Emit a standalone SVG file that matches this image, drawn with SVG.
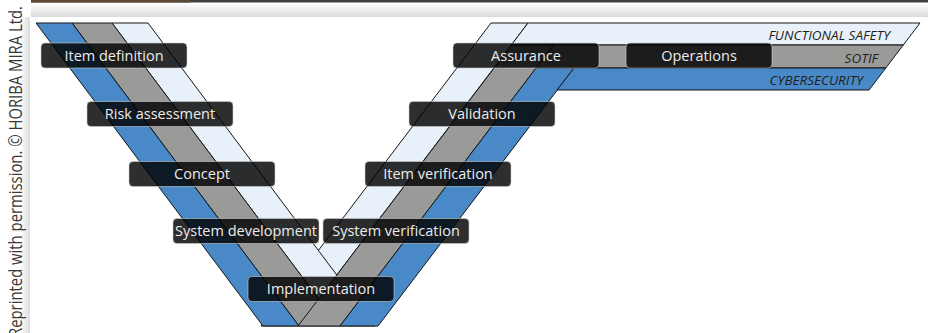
<svg xmlns="http://www.w3.org/2000/svg" width="928" height="333" viewBox="0 0 928 333">
  <defs>
    <linearGradient id="shadeTop" x1="0" y1="0" x2="0" y2="1">
      <stop offset="0" stop-color="#ffffff"/>
      <stop offset="1" stop-color="#dadada"/>
    </linearGradient>
    <linearGradient id="shadeLeft" x1="0" y1="0" x2="1" y2="0">
      <stop offset="0" stop-color="#ffffff"/>
      <stop offset="1" stop-color="#dcdcdc"/>
    </linearGradient>
  </defs>
  <style>
    .edge{stroke:#141414;stroke-width:1;stroke-linejoin:miter}
    .light{fill:#e8f0f9}
    .gray{fill:#9a9a99}
    .blue{fill:#4a89c8}
    .box rect{fill:#000;fill-opacity:.82;stroke:#cfcfcf;stroke-opacity:.75;stroke-width:.8}
    .box text{font-family:"Open Sans","Noto Sans",sans-serif;font-size:14.5px;fill:#ececec;text-anchor:middle}
    .tag{font-family:"Open Sans","Noto Sans",sans-serif;font-style:italic;font-size:13.5px;fill:#1e1e1e;text-anchor:end}
    .credit{font-family:"Open Sans","Noto Sans",sans-serif;font-size:17.5px;fill:#3a3a3a}
  </style>

  <!-- page frame: rule along the top, soft shading round the panel -->
  <rect x="0" y="0" width="928" height="333" fill="#ffffff"/>
  <rect x="31" y="3" width="897" height="14" fill="url(#shadeTop)"/>
  <rect x="20" y="17" width="10" height="316" fill="url(#shadeLeft)"/>
  <rect x="31" y="0" width="897" height="2.5" fill="#404040"/>
  <rect x="31" y="0" width="159" height="2.5" fill="#5b4836"/>
  <text class="credit" transform="translate(21.5,337) rotate(-90)" textLength="331" lengthAdjust="spacingAndGlyphs">Reprinted with permission. © HORIBA MIRA Ltd.</text>

  <!-- V bands: left arm runs down to the right, right arm climbs into the three lifecycle bars -->
  <g id="bands" class="edge">
    <polygon class="light" points="261,326 298,326 528,23 491,23"/>
    <polygon class="light" points="528,23 920,23 903.3,45 511.3,45"/>
    <polygon class="light" points="112,23 148,23 375,326 339,326"/>
    <polygon class="gray" points="72,23 112,23 339,326 299,326"/>
    <polygon class="gray" points="298,326 340,326 553.6,45 511.6,45"/>
    <polygon class="gray" points="553.6,45 903.3,45 885.8,68 536,68"/>
    <polygon class="blue" points="36,23 72,23 299,326 263,326"/>
    <polygon class="blue" points="340,326 378,326 574,68 536,68"/>
    <polygon class="blue" points="574,68 885.8,68 869,90 557,90"/>
  </g>

  <g id="bar-labels">
    <text class="tag" x="890" y="39.5">FUNCTIONAL SAFETY</text>
    <text class="tag" x="878" y="62.5">SOTIF</text>
    <text class="tag" x="863" y="85">CYBERSECURITY</text>
  </g>

  <!-- lifecycle phase labels -->
  <g id="item-definition" class="box"><rect x="41" y="43" width="146" height="25" rx="4"/><text x="114" y="60.5">Item definition</text></g>
  <g id="risk-assessment" class="box"><rect x="87" y="101.5" width="146" height="25" rx="4"/><text x="160" y="119">Risk assessment</text></g>
  <g id="concept" class="box"><rect x="129" y="161.5" width="146" height="25" rx="4"/><text x="202" y="179">Concept</text></g>
  <g id="system-development" class="box"><rect x="173" y="218.5" width="146" height="25" rx="4"/><text x="246" y="236">System development</text></g>
  <g id="implementation" class="box"><rect x="248" y="276.5" width="146" height="25" rx="4"/><text x="321" y="294">Implementation</text></g>
  <g id="system-verification" class="box"><rect x="323" y="218.5" width="146" height="25" rx="4"/><text x="396" y="236">System verification</text></g>
  <g id="item-verification" class="box"><rect x="365" y="161.5" width="146" height="25" rx="4"/><text x="438" y="179">Item verification</text></g>
  <g id="validation" class="box"><rect x="409" y="101.5" width="146" height="25" rx="4"/><text x="482" y="119">Validation</text></g>
  <g id="assurance" class="box"><rect x="453" y="43" width="146" height="25" rx="4"/><text x="526" y="60.5">Assurance</text></g>
  <g id="operations" class="box"><rect x="626" y="43" width="146" height="25" rx="4"/><text x="699" y="60.5">Operations</text></g>
</svg>
